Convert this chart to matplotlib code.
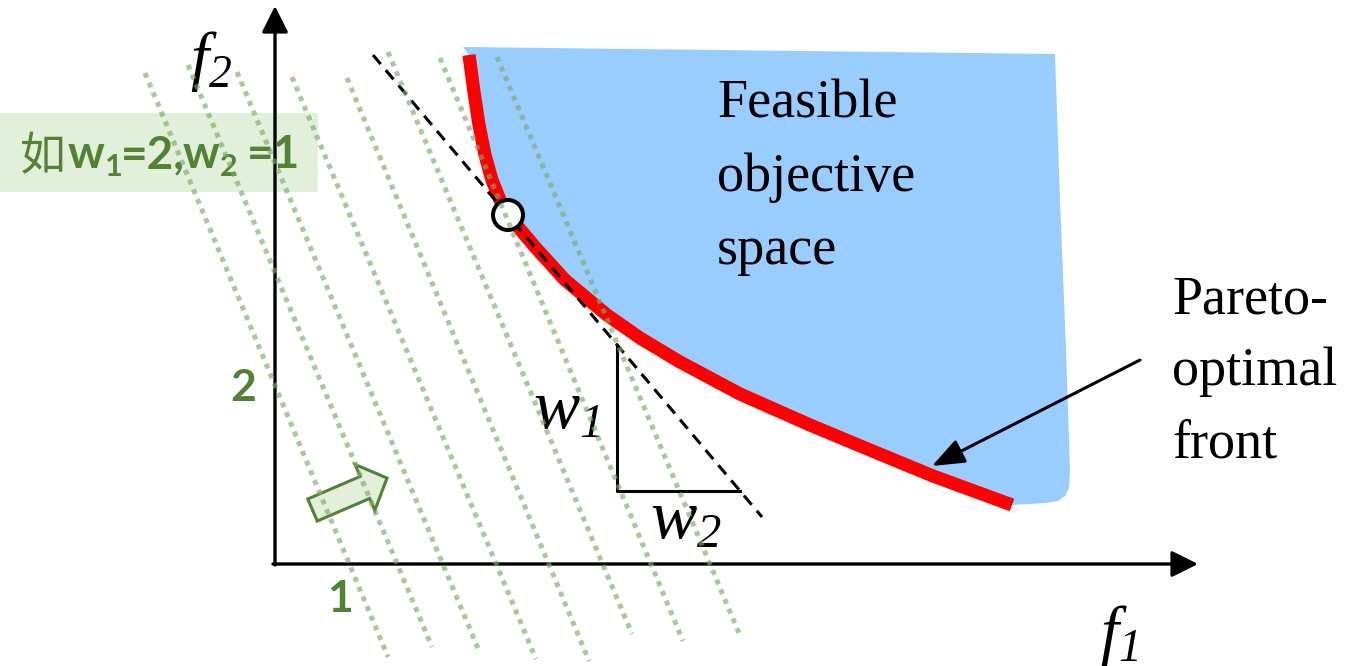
import matplotlib
matplotlib.use("Agg")
import matplotlib.pyplot as plt
from matplotlib.patches import Polygon, Circle, FancyArrow, Rectangle

plt.rcParams['mathtext.fontset'] = 'custom'
plt.rcParams['mathtext.it'] = 'Liberation Serif:italic'
plt.rcParams['mathtext.rm'] = 'Liberation Serif:italic'

# pareto front (pixel coordinates of the sketch, y grows downwards)
front_x = [469, 474, 479, 485, 492, 500, 508, 535, 565, 607, 640, 680, 740, 810, 870, 933, 1012]
front_y = [55, 92, 125, 155, 180, 200, 215, 247, 280, 315, 338, 362, 394, 425, 450, 476, 505]

# outer edge of the feasible region (top edge, right edge, rounded bottom corner)
region_x = [463, 1055, 1060, 1066, 1070, 1069, 1065, 1058, 1045, 1012]
region_y = [47, 54, 200, 350, 470, 488, 496, 501, 503, 505]

# weighted-sum iso lines (w1=2, w2=1): start and end of each dotted line
iso_x0 = [145, 188, 237, 292, 347, 388, 440, 497]
iso_y0 = [73, 65, 72, 77, 78, 52, 58, 57]
iso_x1 = [388, 432, 480, 536, 589, 632, 683, 741]
iso_y1 = [657, 647, 653, 659, 661, 634, 641, 638]

tangent_x = [373, 762]
tangent_y = [55, 517]
optimum = (508, 215)
tri_x = [617, 617, 740]
tri_y = [345, 491, 491]

region_lines = ["Feasible", "objective", "space"]
pareto_lines = ["Pareto-", "optimal", "front"]

GREEN = '#548235'
fig = plt.figure(figsize=(13.48, 6.66), dpi=100)
ax = fig.add_axes([0, 0, 1, 1])
ax.set_xlim(0, 1348)
ax.set_ylim(666, 0)
ax.axis('off')

# feasible region
poly_pts = list(zip(region_x, region_y)) + list(zip(front_x[::-1], front_y[::-1]))
ax.add_patch(Polygon(poly_pts, closed=True, fc='#99CCFF', ec='none', zorder=1))
ax.plot(front_x, front_y, color='#FF0000', lw=9.5, solid_capstyle='butt',
        solid_joinstyle='round', zorder=3)

# tangent and slope triangle
ax.plot(tangent_x, tangent_y, color='black', lw=2.2, ls=(0, (3.9, 2.6)), zorder=4)
ax.plot(tri_x, tri_y, color='black', lw=2.2, zorder=4)
ax.add_patch(Circle(optimum, 15, fc='white', ec='black', lw=2.9, zorder=5))

# axes with arrows
ax.annotate('', xy=(275, 6), xytext=(275, 565),
            arrowprops=dict(arrowstyle='-|>,head_length=0.8,head_width=0.4', color='black',
                            lw=2.4, mutation_scale=20, shrinkA=0, shrinkB=0), zorder=4)
ax.annotate('', xy=(1198, 564), xytext=(273, 564),
            arrowprops=dict(arrowstyle='-|>,head_length=0.8,head_width=0.4', color='black',
                            lw=2.4, mutation_scale=20, shrinkA=0, shrinkB=0), zorder=4)
ax.text(190, 78, '$f_2$', fontsize=47, ha='left', va='baseline', zorder=6)
ax.text(1100, 652, '$f_1$', fontsize=47, ha='left', va='baseline', zorder=6)
ax.text(533, 428, '$w_1$', fontsize=50, ha='left', va='baseline', zorder=6)
ax.text(650, 538, '$w_2$', fontsize=50, ha='left', va='baseline', zorder=6)

# region / front labels
for i, s in enumerate(region_lines):
    ax.text(717, 118 + 73 * i, s, fontsize=39, family='Liberation Serif',
            ha='left', va='baseline', zorder=6)
for i, s in enumerate(pareto_lines):
    ax.text(1172, 313 + 72 * i, s, fontsize=39, family='Liberation Serif',
            ha='left', va='baseline', zorder=6)
ax.annotate('', xy=(932, 466), xytext=(1140, 360),
            arrowprops=dict(arrowstyle='-|>,head_length=0.9,head_width=0.35', color='black',
                            lw=2.2, mutation_scale=22, shrinkA=0, shrinkB=0), zorder=6)

# green annotation box
ax.add_patch(Rectangle((0, 113), 318, 79, fc='#E2EFDA', ec='none', zorder=2))
ax.text(20, 170, '如', fontsize=33, color=GREEN, family=['Noto Sans CJK SC', 'DejaVu Sans'],
        ha='left', va='baseline', zorder=7)
pieces = [(68, 168, 'w', 33), (105, 176, '1', 22), (121, 168, '=2,', 33),
          (183, 168, 'w', 33), (220, 176, '2', 22), (247, 168, '=1', 33)]
for px, py, s, fs in pieces:
    ax.text(px, py, s, fontsize=fs, color=GREEN, family='Lato', fontweight='bold',
            ha='left', va='baseline', zorder=7)
ax.text(340, 599, '1', fontsize=32, color=GREEN, family='Lato', fontweight='bold',
        ha='center', va='center', zorder=7)
ax.text(243, 388, '2', fontsize=32, color=GREEN, family='Lato', fontweight='bold',
        ha='center', va='center', zorder=7)

# block arrow showing the search direction
ax.add_patch(FancyArrow(312.5, 510, 74.5, -32, width=24, head_width=50, head_length=24,
                        length_includes_head=True, fc='#E2EFDA', ec=GREEN, lw=2.2, zorder=7))

# dotted iso lines
for x0, y0, x1, y1 in zip(iso_x0, iso_y0, iso_x1, iso_y1):
    ax.plot([x0, x1], [y0, y1], color='#7FAA68', alpha=0.65, lw=3.6,
            ls=(0, (1.0, 1.1)), dash_capstyle='butt', zorder=8)

fig.savefig('out.png', dpi=100)
